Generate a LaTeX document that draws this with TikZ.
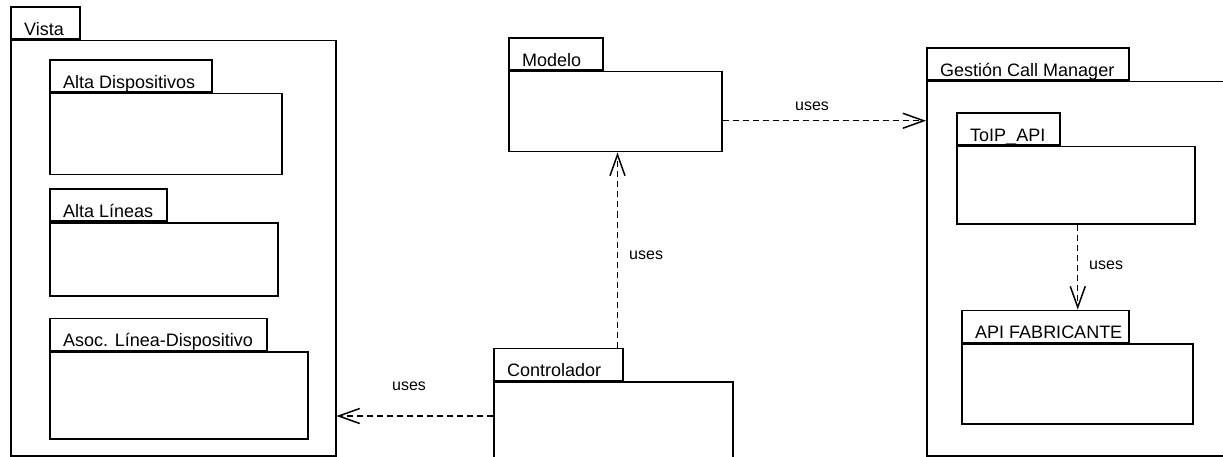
\documentclass[tikz,border=0pt]{standalone}
\usepackage{fontspec}
\setmainfont{Liberation Sans}
\usetikzlibrary{arrows.meta,calc}

\tikzset{
  pkgbody/.style={draw, line width=1.5pt, fill=white, inner sep=0pt, anchor=north west},
  pkgtab/.style={draw, line width=1.5pt, fill=white, inner sep=0pt, minimum height=32pt, anchor=south west},
  pkglabel/.style={anchor=base west, inner sep=0pt, font=\fontsize{18}{20}\selectfont},
  useslabel/.style={inner sep=0pt, font=\fontsize{16}{18}\selectfont},
  uses/.style={line width=1.3pt, dash pattern=on 6pt off 4pt,
    -{Straight Barb[length=21pt,width=15pt,line width=1.5pt]}},
}

% \package{name}{x}{y}{body width}{body height}{tab width}{label}
\newcommand{\package}[7]{%
  \node[pkgbody, minimum width=#4pt, minimum height=#5pt] (#1) at (#2,#3) {};
  \node[pkgtab, minimum width=#6pt] (#1tab) at (#1.north west) {};
  \node[pkglabel] (#1lbl) at ($(#1tab.south west)+(14,-4.5)$) {#7};
}

\begin{document}
\begin{tikzpicture}[x=1pt, y=-1pt]
  \useasboundingbox (0,0) rectangle (1223,457);
  \clip (0,0) rectangle (1223,457);

  % View layer
  \package{vista}{10}{40}{325}{415}{69}{Vista}
  \package{altadisp}{49}{93}{232}{81}{162}{Alta Dispositivos}
  \package{altalin}{49}{222}{228}{73}{117}{Alta Líneas}
  \package{asoc}{49}{351}{258}{87}{217}{Asoc. Línea-Dispositivo}

  % Model and controller
  \package{modelo}{508}{71}{213}{80}{94}{Modelo}
  \package{ctl}{493}{381}{239}{120}{129}{Controlador}

  % Call manager side
  \package{gestion}{926}{81}{340}{374}{202}{Gestión Call Manager}
  \package{toip}{956}{146}{238}{77}{103}{ToIP\_API}
  \package{apifab}{961}{343}{231}{80}{167}{API FABRICANTE}

  % Dependencies
  \coordinate (m1) at ([yshift=-9pt]modelo.east);
  \draw[uses] (m1) -- (m1 -| gestion.west);
  \node[useslabel, anchor=base] (u1) at (812,111) {uses};

  \coordinate (c1) at ([xshift=-6pt]ctltab.north east);
  \draw[uses] (c1) -- (c1 |- modelo.south);
  \node[useslabel, anchor=base west] (u2) at (629,259) {uses};

  \coordinate (c2) at ([yshift=-35pt]ctl.north west);
  \draw[uses] (c2) -- (c2 -| vista.east);
  \node[useslabel, anchor=base] (u3) at (409,390) {uses};

  \coordinate (t1) at ([xshift=2pt]toip.south);
  \draw[uses] (t1) -- (t1 |- apifabtab.north);
  \node[useslabel, anchor=base west] (u4) at (1089,269) {uses};
\end{tikzpicture}
\end{document}
